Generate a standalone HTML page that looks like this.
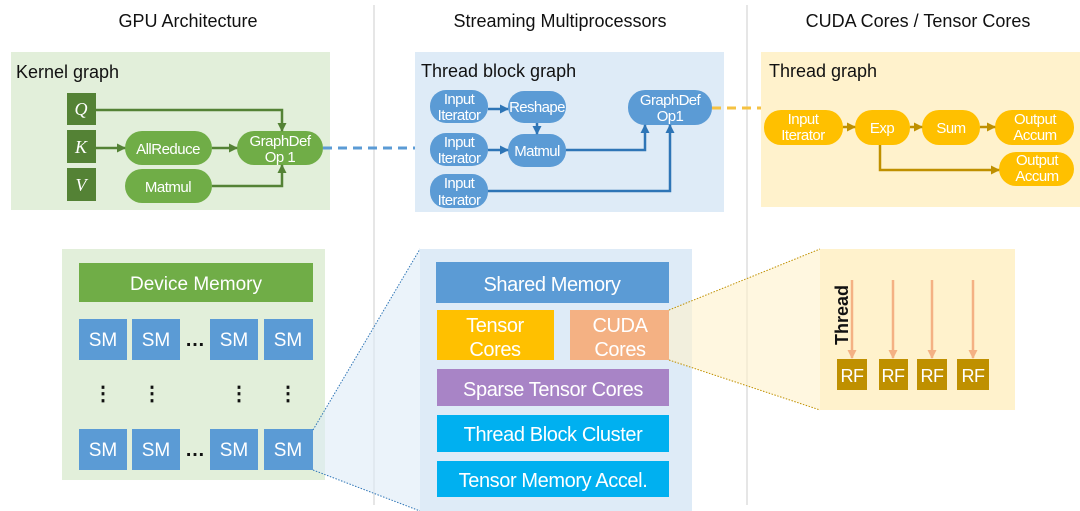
<!DOCTYPE html>
<html><head><meta charset="utf-8"><style>
body{margin:0;background:#fff}
svg{display:block;font-family:"Liberation Sans",sans-serif}
</style></head><body>
<svg width="1080" height="511" viewBox="0 0 1080 511" xmlns="http://www.w3.org/2000/svg">
<defs>
<marker id="ag" markerWidth="9" markerHeight="9" refX="8" refY="4.5" orient="auto" markerUnits="userSpaceOnUse" viewBox="0 0 9 9"><path d="M0,0L9,4.5L0,9z" fill="#548235"/></marker>
<marker id="ab" markerWidth="9" markerHeight="9" refX="8" refY="4.5" orient="auto" markerUnits="userSpaceOnUse" viewBox="0 0 9 9"><path d="M0,0L9,4.5L0,9z" fill="#2e75b6"/></marker>
<marker id="ay" markerWidth="9" markerHeight="9" refX="8" refY="4.5" orient="auto" markerUnits="userSpaceOnUse" viewBox="0 0 9 9"><path d="M0,0L9,4.5L0,9z" fill="#bf9000"/></marker>
<marker id="ao" markerWidth="9" markerHeight="9" refX="8" refY="4.5" orient="auto" markerUnits="userSpaceOnUse" viewBox="0 0 9 9"><path d="M0,0L9,4.5L0,9z" fill="#f4b183"/></marker>
</defs>
<line x1="374" y1="5" x2="374" y2="505" stroke="#e6e6e6" stroke-width="2"/>
<line x1="747" y1="5" x2="747" y2="505" stroke="#e6e6e6" stroke-width="2"/>
<g font-size="18" text-anchor="middle" fill="#111">
<text x="188" y="27">GPU Architecture</text>
<text x="560" y="27">Streaming Multiprocessors</text>
<text x="918" y="27">CUDA Cores / Tensor Cores</text>
</g>
<!-- kernel graph -->
<rect x="11" y="52" width="319" height="158" fill="#e2efda"/>
<text x="16" y="78" font-size="18" fill="#111">Kernel graph</text>
<g fill="#548235"><rect x="67" y="93" width="29" height="32"/><rect x="67" y="130" width="29" height="33"/><rect x="67" y="168" width="29" height="33"/></g>
<g font-family="Liberation Serif,serif" font-style="italic" font-size="18" fill="#fff" text-anchor="middle">
<text x="81" y="115">Q</text><text x="81" y="153">K</text><text x="81" y="191">V</text></g>
<g fill="#70ad47"><rect x="125" y="131" width="87" height="34" rx="17"/><rect x="125" y="169" width="87" height="34" rx="17"/><rect x="237" y="131" width="86" height="34" rx="17"/></g>
<g font-size="15" fill="#fff" text-anchor="middle" letter-spacing="-0.5">
<text x="168" y="154">AllReduce</text><text x="168" y="192">Matmul</text>
<text x="280" y="146">GraphDef</text><text x="280" y="162">Op 1</text></g>
<g stroke="#548235" stroke-width="2.5" fill="none" marker-end="url(#ag)">
<path d="M96,110H282V131"/><path d="M96,148H125"/><path d="M212,148H237"/><path d="M212,186H282V165"/></g>
<line x1="323" y1="148" x2="420" y2="148" stroke="#5b9bd5" stroke-width="3" stroke-dasharray="9,6"/>
<!-- thread block graph -->
<rect x="415" y="52" width="309" height="160" fill="#deebf7"/>
<text x="421" y="77" font-size="18" fill="#111">Thread block graph</text>
<g fill="#5b9bd5">
<rect x="430" y="90" width="58" height="33" rx="16"/><rect x="508" y="91" width="58" height="32" rx="16"/>
<rect x="628" y="90" width="84" height="35" rx="17"/><rect x="430" y="133" width="58" height="33" rx="16"/>
<rect x="508" y="134" width="58" height="33" rx="16"/><rect x="430" y="174" width="58" height="34" rx="16"/></g>
<g font-size="15" fill="#fff" text-anchor="middle" letter-spacing="-0.6">
<text x="459" y="104">Input</text><text x="459" y="120">Iterator</text>
<text x="459" y="147">Input</text><text x="459" y="163">Iterator</text>
<text x="459" y="188">Input</text><text x="459" y="205">Iterator</text>
<text x="537" y="112">Reshape</text><text x="537" y="156">Matmul</text>
<text x="670" y="105">GraphDef</text><text x="670" y="121">Op1</text></g>
<g stroke="#2e75b6" stroke-width="2.5" fill="none" marker-end="url(#ab)">
<path d="M488,109H508"/><path d="M537,123V134"/><path d="M488,150H508"/><path d="M566,150H645V125"/><path d="M488,191H670V125"/></g>
<line x1="712" y1="108" x2="762" y2="108" stroke="#f5c242" stroke-width="3" stroke-dasharray="9,6"/>
<!-- thread graph -->
<rect x="761" y="52" width="319" height="155" fill="#fff2cc"/>
<text x="769" y="77" font-size="18" fill="#111">Thread graph</text>
<g fill="#ffc000">
<rect x="764" y="110" width="79" height="35" rx="17"/><rect x="855" y="110" width="55" height="35" rx="17"/>
<rect x="922" y="110" width="58" height="35" rx="17"/><rect x="995" y="110" width="79" height="35" rx="17"/>
<rect x="999" y="152" width="75" height="34" rx="17"/></g>
<g font-size="15" fill="#fff" text-anchor="middle" letter-spacing="-0.5">
<text x="803" y="124">Input</text><text x="803" y="140">Iterator</text>
<text x="882" y="133">Exp</text><text x="951" y="133">Sum</text>
<text x="1035" y="124">Output</text><text x="1035" y="140">Accum</text>
<text x="1037" y="165">Output</text><text x="1037" y="181">Accum</text></g>
<g stroke="#bf9000" stroke-width="2.5" fill="none" marker-end="url(#ay)">
<path d="M843,127H855"/><path d="M910,127H922"/><path d="M980,127H995"/><path d="M880,145V170H999"/></g>
<!-- bottom left -->
<rect x="62" y="249" width="263" height="231" fill="#e2efda"/>
<rect x="79" y="263" width="234" height="39" fill="#70ad47"/>
<text x="196" y="290" font-size="19" fill="#fff" text-anchor="middle">Device Memory</text>
<g fill="#5b9bd5">
<rect x="79" y="319" width="48" height="41"/><rect x="132" y="319" width="48" height="41"/><rect x="210" y="319" width="48" height="41"/><rect x="264" y="319" width="49" height="41"/>
<rect x="79" y="429" width="48" height="41"/><rect x="132" y="429" width="48" height="41"/><rect x="210" y="429" width="48" height="41"/><rect x="264" y="429" width="49" height="41"/></g>
<g font-size="19" fill="#fff" text-anchor="middle">
<text x="103" y="346">SM</text><text x="156" y="346">SM</text><text x="234" y="346">SM</text><text x="288" y="346">SM</text>
<text x="103" y="456">SM</text><text x="156" y="456">SM</text><text x="234" y="456">SM</text><text x="288" y="456">SM</text></g>
<g font-size="20" font-weight="bold" fill="#111" text-anchor="middle">
<text x="195" y="346">…</text><text x="195" y="456">…</text>
<text x="103" y="400">⋮</text><text x="152" y="400">⋮</text><text x="239" y="400">⋮</text><text x="288" y="400">⋮</text></g>
<!-- trapezoids -->
<polygon points="313,430 420,249 420,511 313,470" fill="#deebf7" opacity="0.6"/>
<line x1="313" y1="430" x2="420" y2="249" stroke="#2e75b6" stroke-width="1" stroke-dasharray="1.5,1.5"/>
<line x1="313" y1="470" x2="420" y2="511" stroke="#2e75b6" stroke-width="1" stroke-dasharray="1.5,1.5"/>
<!-- middle bottom -->
<rect x="420" y="249" width="272" height="262" fill="#deebf7"/>
<rect x="436" y="262" width="233" height="41" fill="#5b9bd5"/>
<rect x="437" y="310" width="117" height="50" fill="#ffc000"/>
<rect x="570" y="310" width="99" height="50" fill="#f4b183"/>
<rect x="437" y="369" width="232" height="37" fill="#a884c6"/>
<rect x="437" y="415" width="232" height="37" fill="#00b0f0"/>
<rect x="437" y="461" width="232" height="36" fill="#00b0f0"/>
<g font-size="20" fill="#fff" text-anchor="middle" letter-spacing="-0.4">
<text x="552" y="291">Shared Memory</text>
<text x="495" y="332">Tensor</text><text x="495" y="356">Cores</text>
<text x="620" y="332">CUDA</text><text x="620" y="356">Cores</text>
<text x="553" y="396">Sparse Tensor Cores</text>
<text x="553" y="441">Thread Block Cluster</text>
<text x="553" y="487">Tensor Memory Accel.</text></g>
<polygon points="669,310 820,249 820,410 669,360" fill="#fff2cc" opacity="0.6"/>
<line x1="669" y1="310" x2="820" y2="249" stroke="#bf9000" stroke-width="1" stroke-dasharray="1.5,1.5"/>
<line x1="669" y1="360" x2="820" y2="410" stroke="#bf9000" stroke-width="1" stroke-dasharray="1.5,1.5"/>
<!-- right bottom -->
<rect x="820" y="249" width="195" height="161" fill="#fff2cc"/>
<text transform="translate(848,345) rotate(-90)" font-size="18" font-weight="bold" fill="#111">Thread</text>
<g stroke="#f4b183" stroke-width="2.5" marker-end="url(#ao)">
<line x1="852" y1="280" x2="852" y2="358"/><line x1="893" y1="280" x2="893" y2="358"/><line x1="932" y1="280" x2="932" y2="358"/><line x1="973" y1="280" x2="973" y2="358"/></g>
<g fill="#bf9000"><rect x="837" y="359" width="30" height="31"/><rect x="879" y="359" width="29" height="31"/><rect x="917" y="359" width="30" height="31"/><rect x="957" y="359" width="32" height="31"/></g>
<g font-size="18" fill="#fff" text-anchor="middle" letter-spacing="-0.5">
<text x="852" y="382">RF</text><text x="893" y="382">RF</text><text x="932" y="382">RF</text><text x="973" y="382">RF</text></g>
</svg>
</body></html>
